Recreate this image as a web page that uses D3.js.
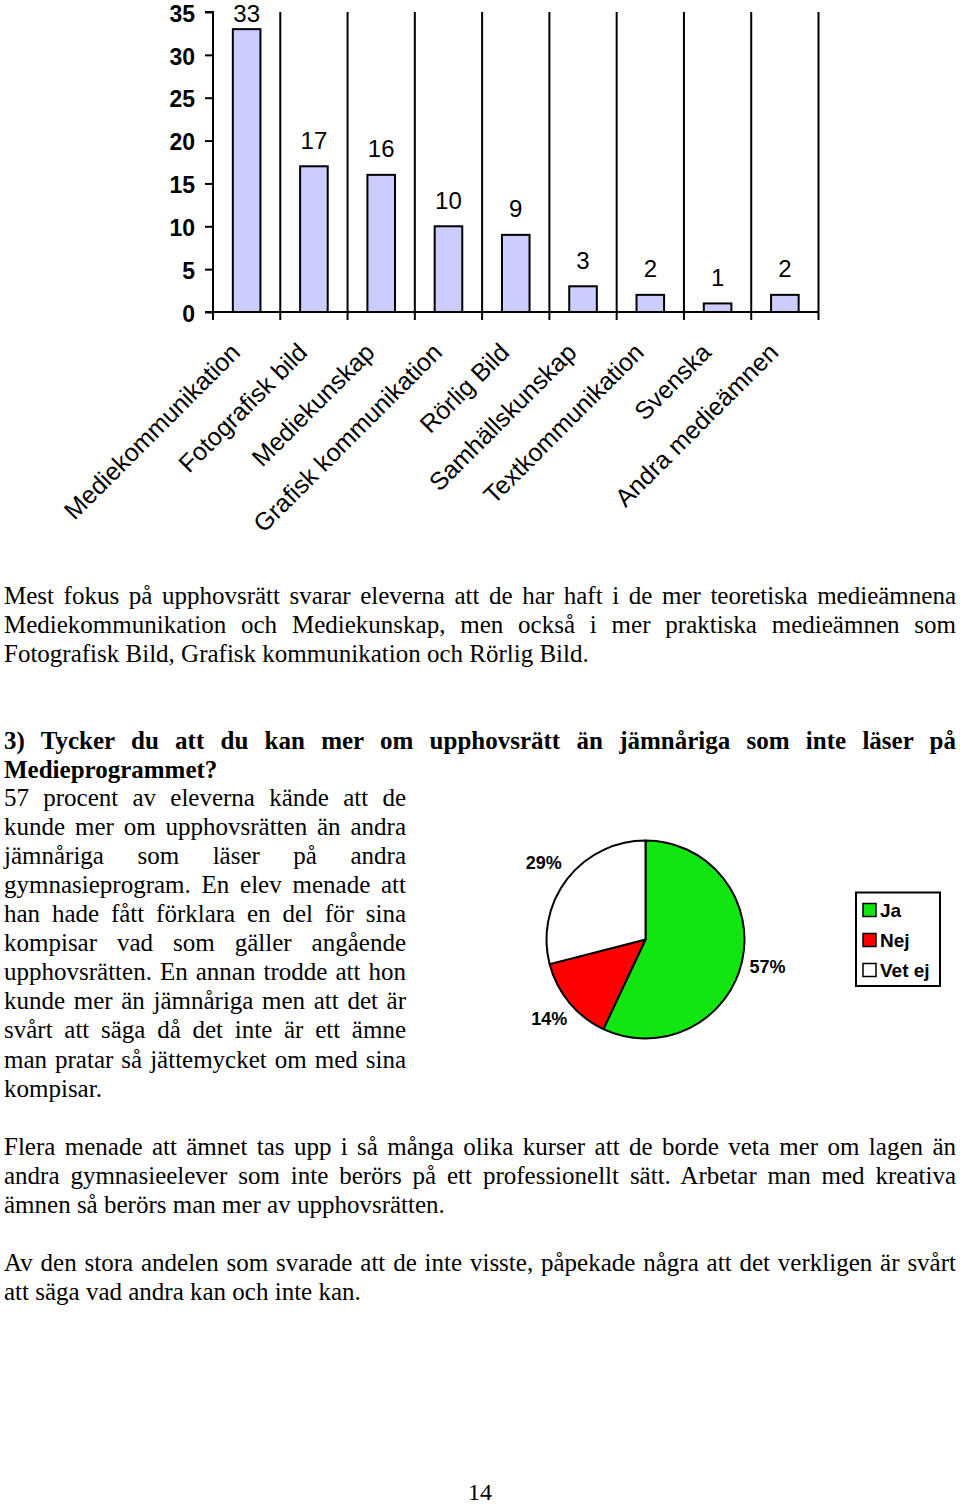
<!DOCTYPE html>
<html>
<head>
<meta charset="utf-8">
<script src="https://cdn.jsdelivr.net/npm/d3@7"></script>
<style>
  html, body { margin: 0; padding: 0; background: #fff; }
  body { width: 960px; height: 1505px; position: relative; overflow: hidden; }
  svg { position: absolute; left: 0; top: 0; }
  .line { position: absolute; left: 4px; font-family: "Liberation Serif", "Times New Roman", serif;
          font-size: 25px; line-height: 29px; height: 29px; white-space: nowrap; color: #000; }
  .just { text-align: justify; text-align-last: justify; white-space: normal; }
  .bold { font-weight: bold; }
</style>
</head>
<body>
<svg id="chart" width="960" height="1505"></svg>
<script>
// ---------- Data ----------
const categories = ["Mediekommunikation", "Fotografisk bild", "Mediekunskap", "Grafisk kommunikation",
  "Rörlig Bild", "Samhällskunskap", "Textkommunikation", "Svenska", "Andra medieämnen"];
const counts = [33, 17, 16, 10, 9, 3, 2, 1, 2];
const yTicks = [0, 5, 10, 15, 20, 25, 30, 35];

const pieLabels = ["Ja", "Nej", "Vet ej"];
const pieValues = [57, 14, 29];
const pieColors = ["#11e611", "#ff0000", "#ffffff"];

const para1 = [
  "Mest fokus på upphovsrätt svarar eleverna att de har haft i de mer teoretiska medieämnena",
  "Mediekommunikation och Mediekunskap, men också i mer praktiska medieämnen som",
  "Fotografisk Bild, Grafisk kommunikation och Rörlig Bild."
];
const question = [
  "3) Tycker du att du kan mer om upphovsrätt än jämnåriga som inte läser på",
  "Medieprogrammet?"
];
const para2 = [
  "57 procent av eleverna kände att de",
  "kunde mer om upphovsrätten än andra",
  "jämnåriga som läser på andra",
  "gymnasieprogram. En elev menade att",
  "han hade fått förklara en del för sina",
  "kompisar vad som gäller angående",
  "upphovsrätten. En annan trodde att hon",
  "kunde mer än jämnåriga men att det är",
  "svårt att säga då det inte är ett ämne",
  "man pratar så jättemycket om med sina",
  "kompisar."
];
const para3 = [
  "Flera menade att ämnet tas upp i så många olika kurser att de borde veta mer om lagen än",
  "andra gymnasieelever som inte berörs på ett professionellt sätt. Arbetar man med kreativa",
  "ämnen så berörs man mer av upphovsrätten."
];
const para4 = [
  "Av den stora andelen som svarade att de inte visste, påpekade några att det verkligen är svårt",
  "att säga vad andra kan och inte kan."
];
const pageNumber = "14";

// ---------- Bar chart ----------
const svg = d3.select("#chart");
const x0 = 213, x1 = 818.5, yTop = 12, yBase = 312;
const x = d3.scaleBand().domain(categories).range([x0, x1]).paddingInner(0.59).paddingOuter(0.295);
const y = d3.scaleLinear().domain([0, 35]).range([yBase, yTop]);
const step = x.step();
const SANS = "Liberation Sans, Arial, sans-serif";

const bar = svg.append("g");

// vertical gridlines at category boundaries (extend below baseline as tick marks)
bar.append("g").selectAll("line").data(categories).join("line")
  .attr("x1", (d, i) => x0 + step * (i + 1)).attr("x2", (d, i) => x0 + step * (i + 1))
  .attr("y1", yTop).attr("y2", yBase + 8)
  .attr("stroke", "#000").attr("stroke-width", 2);

// y axis
const yAxis = d3.axisLeft(y).tickValues(yTicks).tickSize(8).tickPadding(10);
const ya = bar.append("g").attr("transform", `translate(${x0},0)`).call(yAxis);
ya.select(".domain").attr("stroke-width", 2).attr("d", `M-8,${yTop}H0V${yBase + 8}`);
ya.selectAll(".tick line").attr("stroke-width", 2);
ya.selectAll(".tick text").attr("font-family", SANS)
  .attr("font-size", 23).attr("font-weight", "bold").attr("fill", "#000")
  .attr("dy", "0.4em");

// x baseline
bar.append("line").attr("x1", x0 - 8).attr("x2", x1).attr("y1", yBase).attr("y2", yBase)
  .attr("stroke", "#000").attr("stroke-width", 2);

// bars
bar.append("g").selectAll("rect").data(categories).join("rect")
  .attr("x", d => x(d)).attr("width", x.bandwidth())
  .attr("y", (d, i) => y(counts[i])).attr("height", (d, i) => yBase - y(counts[i]))
  .attr("fill", "#ccccff").attr("stroke", "#000").attr("stroke-width", 2);

// value labels
bar.append("g").selectAll("text").data(categories).join("text")
  .attr("x", d => x(d) + x.bandwidth() / 2)
  .attr("y", (d, i) => Math.max(y(counts[i]) - 17.5, 22))
  .attr("text-anchor", "middle")
  .attr("font-family", SANS).attr("font-size", 24)
  .text((d, i) => counts[i]);

// category labels
bar.append("g").selectAll("text").data(categories).join("text")
  .attr("transform", d => `translate(${x(d) + x.bandwidth() / 2 - 5},354) rotate(-45)`)
  .attr("text-anchor", "end")
  .attr("font-family", SANS).attr("font-size", 25)
  .text(d => d);

// ---------- Pie chart ----------
const cx = 645.5, cy = 939.5, r = 99;
const pie = d3.pie().sort(null).value(d => d)(pieValues);
const arc = d3.arc().innerRadius(0).outerRadius(r);
const labelArc = d3.arc().innerRadius(125).outerRadius(125);
const pg = svg.append("g").attr("transform", `translate(${cx},${cy})`);
pg.selectAll("path").data(pie).join("path")
  .attr("d", arc).attr("fill", (d, i) => pieColors[i])
  .attr("stroke", "#000").attr("stroke-width", 2).attr("stroke-linejoin", "round");
pg.selectAll("text").data(pie).join("text")
  .attr("transform", d => `translate(${labelArc.centroid(d)})`)
  .attr("dx", (d, i) => i === 2 ? -3 : 0)
  .attr("text-anchor", "middle").attr("dominant-baseline", "central")
  .attr("font-family", SANS).attr("font-size", 18)
  .attr("font-weight", "bold")
  .text(d => Math.round(d.data) + "%");

// legend
const lg = svg.append("g");
lg.append("rect").attr("x", 856).attr("y", 892.5).attr("width", 84).attr("height", 93.5)
  .attr("fill", "#fff").attr("stroke", "#000").attr("stroke-width", 2);
const ly = d3.scalePoint().domain(pieLabels).range([910, 970]);
lg.selectAll("rect.sw").data(pieLabels).join("rect").attr("class", "sw")
  .attr("x", 863).attr("y", d => ly(d) - 6.5).attr("width", 13).attr("height", 13)
  .attr("fill", (d, i) => pieColors[i]).attr("stroke", "#000").attr("stroke-width", 1.5);
lg.selectAll("text").data(pieLabels).join("text")
  .attr("x", 880).attr("y", d => ly(d)).attr("dominant-baseline", "central")
  .attr("font-family", SANS).attr("font-size", 19)
  .attr("font-weight", "bold").text(d => d);

// ---------- Text ----------
const ASC = 22.9; // baseline offset in line box
function addLines(lines, firstBaseline, gap, width, bold) {
  lines.forEach((t, i) => {
    const last = i === lines.length - 1;
    d3.select("body").append("div")
      .attr("class", "line" + (last ? "" : " just") + (bold ? " bold" : ""))
      .style("top", (firstBaseline + i * gap - ASC) + "px")
      .style("width", width + "px")
      .text(t);
  });
}
addLines(para1, 603.5, 29, 952, false);
addLines(question, 748.5, 29, 952, true);
addLines(para2, 805.5, 29.1, 402, false);
addLines(para3, 1154.5, 29, 952, false);
addLines(para4, 1270.5, 29, 952, false);

svg.append("text").attr("x", 480).attr("y", 1500).attr("text-anchor", "middle")
  .attr("font-family", "Liberation Serif, Times New Roman, serif").attr("font-size", 24)
  .text(pageNumber);
</script>
</body>
</html>
